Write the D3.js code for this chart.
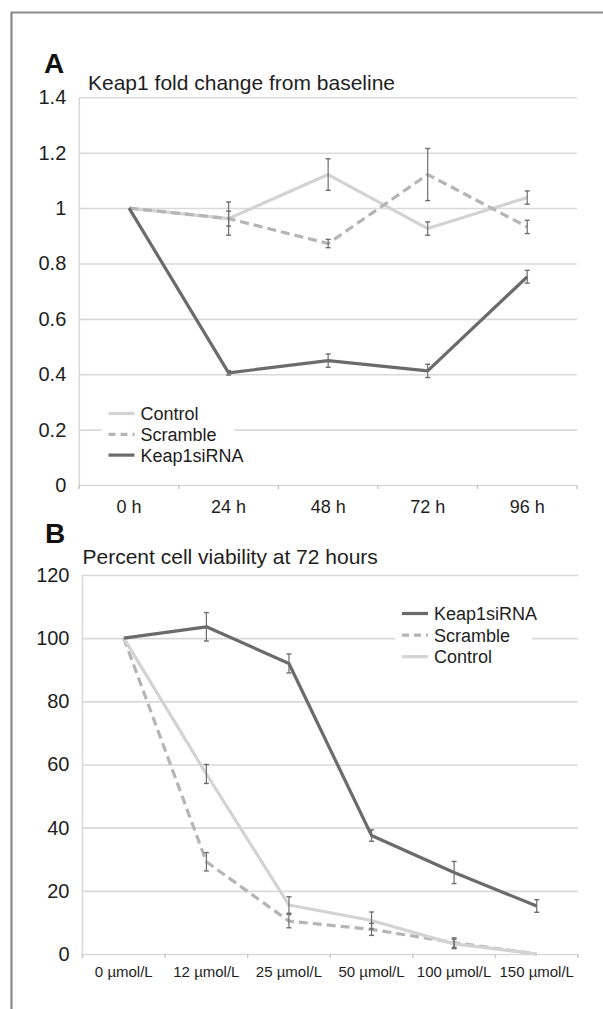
<!DOCTYPE html>
<html><head><meta charset="utf-8">
<script src="https://cdn.jsdelivr.net/npm/d3@7"></script>
<style>
html,body{margin:0;padding:0;background:#fff;}
svg{display:block;font-family:"Liberation Sans",Arial,Helvetica,sans-serif;}
</style></head>
<body>
<svg id="chart" width="603" height="1009"></svg>
<script>
// ---- Panel A data ----
const timeLabels = ["0 h", "24 h", "48 h", "72 h", "96 h"];
const aTicks = [0, 0.2, 0.4, 0.6, 0.8, 1, 1.2, 1.4];
const aControl = [1, 0.962, 1.121, 0.926, 1.038];
const aControlErr = [0, 0.06, 0.057, 0.024, 0.024];
const aScramble = [1, 0.962, 0.872, 1.121, 0.932];
const aScrambleErr = [0, 0.027, 0.015, 0.094, 0.024];
const aKeap = [1, 0.405, 0.449, 0.412, 0.752];
const aKeapErr = [0, 0.008, 0.024, 0.024, 0.023];

// ---- Panel B data ----
const doseLabels = ["0 \u00b5mol/L", "12 \u00b5mol/L", "25 \u00b5mol/L", "50 \u00b5mol/L", "100 \u00b5mol/L", "150 \u00b5mol/L"];
const bTicks = [0, 20, 40, 60, 80, 100, 120];
const bKeap = [100, 103.6, 92.0, 37.5, 25.8, 15.2];
const bKeapErr = [0, 4.5, 3, 1.8, 3.5, 2];
const bScramble = [100, 29.2, 10.4, 7.8, 3.6, 0];
const bScrambleErr = [0, 2.9, 2.1, 1.9, 1.5, 0];
const bControl = [100, 57.0, 15.5, 10.6, 3.2, 0];
const bControlErr = [0, 3.0, 2.6, 2.7, 1.5, 0];

const C_CONTROL = "#d3d3d3", C_SCRAMBLE = "#b5b5b5", C_KEAP = "#6b6b6b";
const GRID = "#d9d9d9", ERR = "#6e6e6e", TXT = "#1e1e1e";

const svg = d3.select("#chart");
svg.append("rect").attr("width", 603).attr("height", 1009).attr("fill", "#fff");
// frame
svg.append("path").attr("d", "M11.5,1009 V12.5 H603").attr("fill", "none")
  .attr("stroke", "#8a8a8a").attr("stroke-width", 2.2);

function panel(cfg) {
  const g = svg.append("g");
  const x = d3.scaleBand().domain(cfg.cats).range(cfg.xr);
  const y = d3.scaleLinear().domain([0, cfg.ticks[cfg.ticks.length - 1]]).range(cfg.yr);
  const cx = d => x(d) + x.bandwidth() / 2;

  // gridlines + y labels
  const ya = d3.axisLeft(y).tickValues(cfg.ticks).tickSize(-(cfg.xr[1] - cfg.xr[0])).tickPadding(13)
    .tickFormat(d => String(d));
  const yg = g.append("g").attr("transform", `translate(${cfg.xr[0]},0)`).call(ya);
  yg.select(".domain").remove();
  yg.selectAll(".tick line").attr("stroke", GRID).attr("stroke-width", 1.6);
  yg.selectAll(".tick text").attr("fill", TXT).attr("font-size", 20).attr("font-family", "Liberation Sans, Arial, sans-serif");

  // vertical axis line
  g.append("line").attr("x1", cfg.xr[0]).attr("x2", cfg.xr[0]).attr("y1", cfg.yr[1]).attr("y2", cfg.yr[0] + 4)
    .attr("stroke", GRID).attr("stroke-width", 1.6);
  // x tick marks at category boundaries
  const bounds = cfg.cats.map(d => x(d)).concat([x.range()[1]]);
  g.selectAll(".xt").data(bounds).join("line")
    .attr("x1", d => d).attr("x2", d => d).attr("y1", cfg.yr[0]).attr("y2", cfg.yr[0] + 4)
    .attr("stroke", "#c8c8c8").attr("stroke-width", 1.4);
  // x labels
  const xa = d3.axisBottom(x).tickSize(0).tickPadding(cfg.xPad);
  const xg = g.append("g").attr("transform", `translate(0,${cfg.yr[0]})`).call(xa);
  xg.select(".domain").remove();
  xg.selectAll(".tick text").attr("fill", TXT).attr("font-size", cfg.xFont).attr("font-family", "Liberation Sans, Arial, sans-serif");

  // title + letter
  g.append("text").attr("x", cfg.letterX).attr("y", cfg.letterY).text(cfg.letter)
    .attr("font-size", 28).attr("font-weight", "bold").attr("fill", "#111");
  g.append("text").attr("x", cfg.titleX).attr("y", cfg.titleY).text(cfg.title)
    .attr("font-size", 21).attr("fill", TXT);

  // legend background + entries
  const L = cfg.legend;
  g.append("rect").attr("x", L.bx).attr("y", L.by).attr("width", L.bw).attr("height", L.bh).attr("fill", "#fff");
  L.items.forEach((it, i) => {
    const ly = L.y0 + i * L.dy;
    g.append("line").attr("x1", L.x).attr("x2", L.x + 26).attr("y1", ly).attr("y2", ly)
      .attr("stroke", it.color).attr("stroke-width", 3.2).attr("stroke-dasharray", it.dash || null);
    g.append("text").attr("x", L.x + 32).attr("y", ly + 6.5).text(it.name)
      .attr("font-size", 18).attr("fill", TXT);
  });

  // series lines
  const line = d3.line().x((d, i) => cx(cfg.cats[i])).y(d => y(d));
  cfg.series.forEach(s => {
    g.append("path").datum(s.values).attr("d", line).attr("fill", "none")
      .attr("stroke", s.color).attr("stroke-width", 3.2).attr("stroke-linejoin", "round")
      .attr("stroke-dasharray", s.dash || null);
  });
  // error bars
  cfg.series.forEach(s => {
    s.values.forEach((v, i) => {
      const e = s.err[i];
      if (!e) return;
      const px = cx(cfg.cats[i]);
      const y1 = y(v + e), y2 = y(v - e);
      g.append("line").attr("x1", px).attr("x2", px).attr("y1", y1).attr("y2", y2)
        .attr("stroke", ERR).attr("stroke-width", 1.2);
      [y1, y2].forEach(yy => g.append("line").attr("x1", px - 2.5).attr("x2", px + 2.5)
        .attr("y1", yy).attr("y2", yy).attr("stroke", ERR).attr("stroke-width", 1.4));
    });
  });
}

panel({
  cats: timeLabels, ticks: aTicks, xr: [79.3, 577], yr: [485, 97.3],
  xPad: 15, xFont: 18,
  letter: "A", letterX: 44, letterY: 72.5,
  title: "Keap1 fold change from baseline", titleX: 88, titleY: 90,
  legend: { bx: 102, by: 403, bw: 132, bh: 62, x: 108.5, y0: 413.5, dy: 20.8,
    items: [
      { name: "Control", color: C_CONTROL },
      { name: "Scramble", color: C_SCRAMBLE, dash: "7,5" },
      { name: "Keap1siRNA", color: C_KEAP }
    ] },
  series: [
    { values: aControl, err: aControlErr, color: C_CONTROL },
    { values: aScramble, err: aScrambleErr, color: C_SCRAMBLE, dash: "9,5" },
    { values: aKeap, err: aKeapErr, color: C_KEAP }
  ]
});

panel({
  cats: doseLabels, ticks: bTicks, xr: [82.5, 578], yr: [954, 575],
  xPad: 12, xFont: 15,
  letter: "B", letterX: 45, letterY: 543,
  title: "Percent cell viability at 72 hours", titleX: 82.5, titleY: 563.5,
  legend: { bx: 395, by: 602, bw: 137, bh: 66, x: 402, y0: 613.5, dy: 21.6,
    items: [
      { name: "Keap1siRNA", color: C_KEAP },
      { name: "Scramble", color: C_SCRAMBLE, dash: "7,5" },
      { name: "Control", color: C_CONTROL }
    ] },
  series: [
    { values: bScramble, err: bScrambleErr, color: C_SCRAMBLE, dash: "9,5" },
    { values: bControl, err: bControlErr, color: C_CONTROL },
    { values: bKeap, err: bKeapErr, color: C_KEAP }
  ]
});
</script>
</body></html>
